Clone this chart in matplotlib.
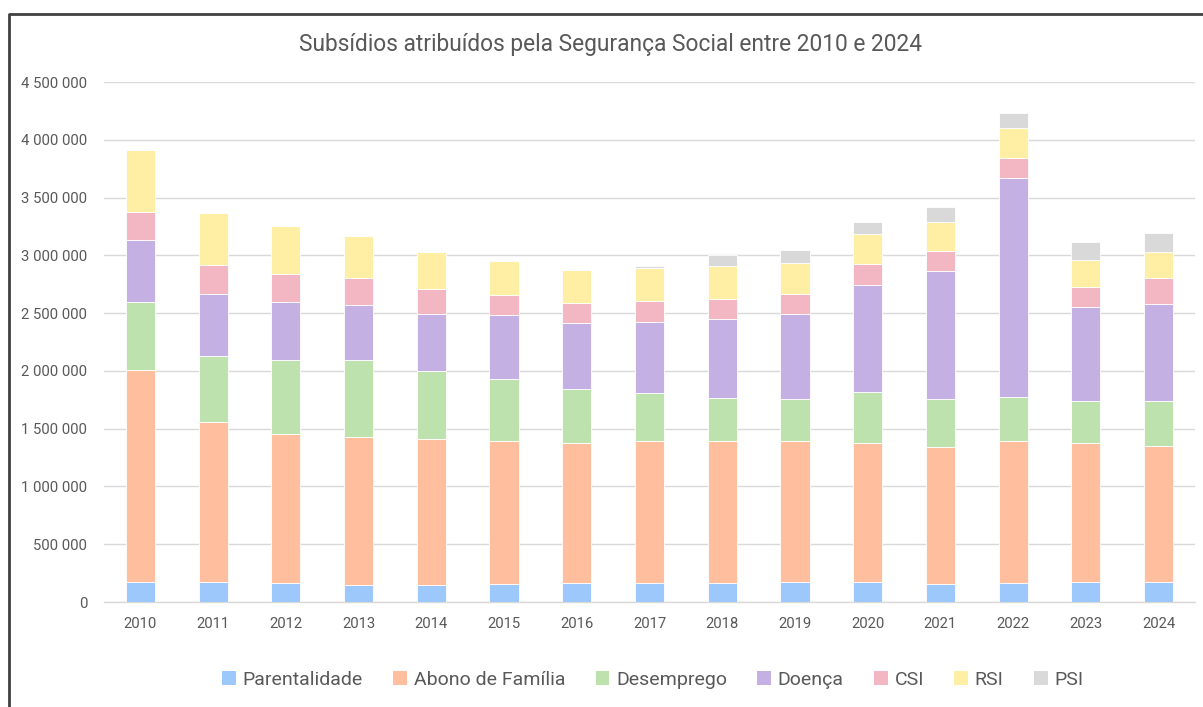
import matplotlib
matplotlib.use("Agg")
import matplotlib.pyplot as plt
from matplotlib.ticker import FuncFormatter
from matplotlib.patches import Patch
from matplotlib.lines import Line2D
from matplotlib import font_manager
import numpy as np

years = ["2010", "2011", "2012", "2013", "2014", "2015", "2016", "2017",
         "2018", "2019", "2020", "2021", "2022", "2023", "2024"]
parentalidade = [174000, 174000, 162000, 148000, 147000, 159000, 165000, 165000,
                 165000, 173000, 173000, 159000, 165000, 173000, 173000]
abono = [1836000, 1388000, 1290000, 1281000, 1263000, 1231000, 1208000, 1225000,
         1231000, 1223000, 1200000, 1179000, 1231000, 1206000, 1180000]
desemprego = [588000, 567000, 645000, 668000, 590000, 541000, 474000, 416000,
              373000, 361000, 442000, 419000, 381000, 361000, 387000]
doenca = [535000, 538000, 501000, 472000, 488000, 549000, 569000, 619000,
          679000, 731000, 931000, 1107000, 1891000, 809000, 835000]
csi = [243000, 249000, 240000, 234000, 217000, 179000, 168000, 176000,
       176000, 177000, 176000, 171000, 170000, 174000, 226000]
rsi = [532000, 454000, 416000, 364000, 324000, 289000, 292000, 292000,
       284000, 269000, 260000, 257000, 260000, 239000, 228000]
psi = [0, 0, 0, 0, 0, 0, 0, 17000,
       95000, 112000, 110000, 130000, 136000, 154000, 168000]

series_names = ["Parentalidade", "Abono de Família", "Desemprego", "Doença", "CSI", "RSI", "PSI"]
series_values = [parentalidade, abono, desemprego, doenca, csi, rsi, psi]
colors = ["#9DC8FC", "#FFBE9D", "#BEE2AE", "#C5B0E3", "#F3B6C3", "#FFEFA5", "#D9D9D9"]

available = {f.name for f in font_manager.fontManager.ttflist}
base = "Roboto" if "Roboto" in available else "DejaVu Sans"
plt.rcParams['font.family'] = [base, 'DejaVu Sans']

fig = plt.figure(figsize=(12.03, 7.07), dpi=100)
W, H = 1203, 707
ax = fig.add_axes([104 / W, 1 - 602 / H, (1195 - 104) / W, (602 - 82) / H])

x = np.arange(len(years))
bottom = np.zeros(len(years))
for name, vals, c in zip(series_names, series_values, colors):
    v = np.array(vals, dtype=float)
    ax.bar(x, v, bottom=bottom, width=0.4, color=c, edgecolor="white", linewidth=0.6,
           label=name, zorder=3)
    bottom += v

ax.set_xlim(-0.5, len(years) - 0.5)
ax.set_ylim(0, 4500000)
ax.set_yticks(np.arange(0, 4500001, 500000))
ax.yaxis.set_major_formatter(FuncFormatter(lambda v, p: f"{int(v):,}".replace(",", " ")))
ax.set_xticks(x)
ax.set_xticklabels(years)
ax.grid(axis="y", color="#D9D9D9", linewidth=1.0, zorder=0)
for s in ["top", "right", "left"]:
    ax.spines[s].set_visible(False)
ax.spines["bottom"].set_color("#D9D9D9")
ax.spines["bottom"].set_linewidth(1.0)
ax.tick_params(axis="both", length=0, colors="#595959", labelsize=10.7)
ax.tick_params(axis="y", pad=12)
ax.tick_params(axis="x", pad=11)

fig.text(611 / W, 1 - 44 / H, "Subsídios atribuídos pela Segurança Social entre 2010 e 2024",
         ha="center", va="center", fontsize=16.4, color="#595959")

handles = [Patch(facecolor=c, edgecolor="none") for c in colors]
leg = fig.legend(handles, series_names, loc="center", bbox_to_anchor=(653 / W, 1 - 680 / H),
                 ncol=7, frameon=False, fontsize=14, handlelength=0.7, handleheight=0.7,
                 handletextpad=0.35, columnspacing=1.56, labelcolor="#595959")

# outer chart frame
fig.add_artist(Line2D([9 / W, 9 / W, 1.0], [0.0, 1 - 14 / H, 1 - 14 / H],
                      transform=fig.transFigure, color="#404040", linewidth=2))

fig.savefig("out.png", dpi=100)
